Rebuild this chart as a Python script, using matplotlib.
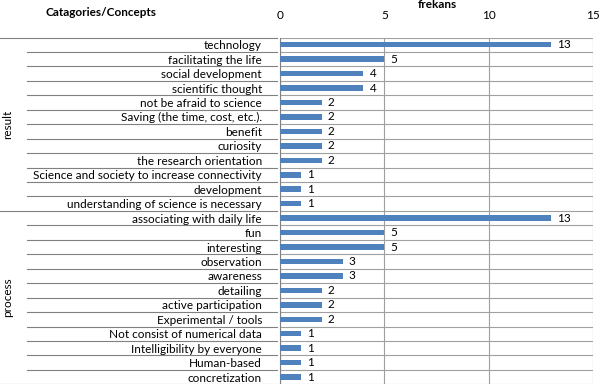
import matplotlib
matplotlib.use("Agg")
import matplotlib.pyplot as plt
from matplotlib.lines import Line2D

groups = ["result", "process"]
result_labels = ["technology", "facilitating the life", "social development", "scientific thought",
                 "not be afraid to science", "Saving (the time, cost, etc.).", "benefit", "curiosity",
                 "the research orientation", "Science and society to increase connectivity",
                 "development", "understanding of science is necessary"]
result_values = [13, 5, 4, 4, 2, 2, 2, 2, 2, 1, 1, 1]
process_labels = ["associating with daily life", "fun", "interesting", "observation", "awareness",
                  "detailing", "active participation", "Experimental / tools",
                  "Not consist of numerical data", "Intelligibility by everyone", "Human-based",
                  "concretization"]
process_values = [13, 5, 5, 3, 3, 2, 2, 2, 1, 1, 1, 1]
xticks = [0, 5, 10, 15]

plt.rcParams['font.family'] = ['Lato', 'DejaVu Sans']
W, H = 600, 384
fig = plt.figure(figsize=(6, 3.84), dpi=100)
top_px, row_px = 37.5, 14.45
labels = result_labels + process_labels
values = result_values + process_values
n = len(labels)
bottom_px = top_px + n * row_px
left_px, right_px = 280, 593
ax = fig.add_axes([left_px / W, 1 - bottom_px / H, (right_px - left_px) / W, (bottom_px - top_px) / H])
ys = list(range(n))
bar_color = "#4F81BD"
ax.barh(ys, values, height=0.38, color=bar_color, zorder=3)
for y, v in zip(ys, values):
    ax.text(v + 0.3, y, str(v), va="center", ha="left", fontsize=8.5, color="#000000")
ax.set_ylim(n - 0.5, -0.5)
ax.set_xlim(0, 15)
ax.xaxis.tick_top()
ax.set_xticks(xticks)
ax.set_xticklabels([str(t) for t in xticks], fontsize=8.5)
ax.tick_params(axis="x", length=0, pad=12)
ax.set_yticks(ys)
ax.set_yticklabels(labels, fontsize=8.5)
ax.tick_params(axis="y", length=0, pad=13)
for s in ["top", "right", "bottom"]:
    ax.spines[s].set_visible(False)
ax.spines["left"].set_color("#808080")
ax.grid(axis="x", color="#a0a0a0", linewidth=0.8, zorder=0)
for i in range(n + 1):
    ax.axhline(i - 0.5, color="#a0a0a0", linewidth=0.8, zorder=1)

def figline(x0, x1, ypx, color="#808080"):
    yf = 1 - ypx / H
    fig.add_artist(Line2D([x0 / W, x1 / W], [yf, yf], color=color, linewidth=0.8))

for i in range(n + 1):
    ypx = top_px + i * row_px
    if i in (0, 12, 24):
        figline(0, 277, ypx)
    else:
        figline(27, 277, ypx)

fig.text(8 / W, 1 - (top_px + 6 * row_px) / H, groups[0], rotation=90, ha="center", va="center", fontsize=8.5)
fig.text(8 / W, 1 - (top_px + 18 * row_px) / H, groups[1], rotation=90, ha="center", va="center", fontsize=8.5)
fig.text(101 / W, 1 - 12 / H, "Catagories/Concepts", ha="center", va="center", fontsize=8.5, fontweight="bold")
fig.text(437 / W, 1 - 5 / H, "frekans", ha="center", va="center", fontsize=8.5, fontweight="bold")

fig.savefig("out.png", dpi=100)
